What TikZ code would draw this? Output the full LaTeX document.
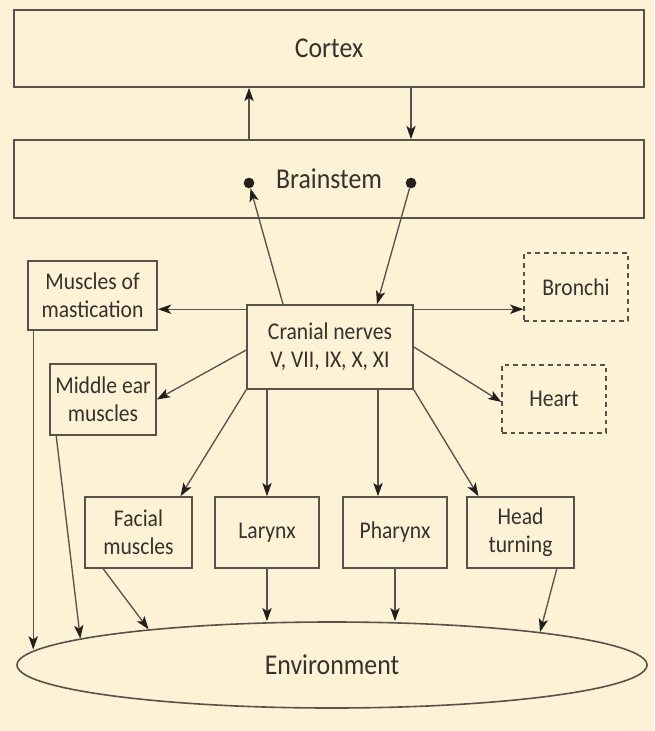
\documentclass[tikz,border=0pt]{standalone}
\usepackage{fontspec}
\setmainfont{Carlito}[FakeStretch=0.9]
\usetikzlibrary{arrows.meta,calc,shapes.geometric}
\definecolor{bg}{HTML}{FEF2D6}
\definecolor{ln}{HTML}{57524B}
\definecolor{tx}{HTML}{35312D}
\definecolor{tipc}{HTML}{231F1C}
\begin{document}
\begin{tikzpicture}[x=0.75pt,y=-0.75pt,
  box/.style={draw=ln,line width=1.2pt,fill=bg,text=tx,align=center,inner sep=0pt,font=\fontsize{18}{21}\selectfont},
  bigbox/.style={box,font=\fontsize{21.5}{24}\selectfont},
  dbox/.style={box,line width=0.9pt,dash pattern=on 3.5pt off 3pt},
  envshape/.style={box,ellipse,font=\fontsize{21.5}{24}\selectfont},
  arr/.style={draw=ln,line width=1pt,-{Stealth[length=10pt,width=7pt,inset=2.5pt,color=tipc]}},
  dot/.style={circle,fill=tipc,inner sep=0pt,minimum size=8pt}]
\fill[bg] (0,0) rectangle (654,731);
\useasboundingbox (0,0) rectangle (654,731);

\node[bigbox,minimum width=472.5pt,minimum height=57.75pt] (cortex) at (329,48.5) {Cortex};
\node[bigbox,minimum width=472.5pt,minimum height=58.5pt] (brain) at (329,179) {Brainstem};
\node[dot] (dl) at (249,183) {};
\node[dot] (dr) at (411,183) {};

\node[box,minimum width=124.5pt,minimum height=63pt] (cranial) at (330,347) {Cranial nerves\\V, VII, IX, X, XI};
\node[box,minimum width=96.75pt,minimum height=51.75pt] (mast) at (92.5,295.5) {Muscles of\\mastication};
\node[box,minimum width=79.5pt,minimum height=53.25pt] (midear) at (103,399.5) {Middle ear\\muscles};
\node[dbox,minimum width=78pt,minimum height=51pt] (bronchi) at (576,287) {Bronchi};
\node[dbox,minimum width=78pt,minimum height=51pt] (heart) at (554,399) {Heart};

\node[box,minimum width=80.25pt,minimum height=53.25pt] (facial) at (138.5,532.5) {Facial\\muscles};
\node[box,minimum width=78pt,minimum height=53.25pt] (larynx) at (267,532.5) {Larynx};
\node[box,minimum width=78pt,minimum height=53.25pt] (pharynx) at (395,532.5) {Pharynx};
\node[box,minimum width=80.25pt,minimum height=53.25pt] (head) at (520.5,532.5) {Head\\turning};

\node[envshape,minimum width=472.5pt,minimum height=64.5pt] (env) at (332,665) {Environment};

% brainstem <-> cortex
\draw[arr] (brain.north -| dl) -- (cortex.south -| dl);
\draw[arr] (cortex.south -| dr) -- (brain.north -| dr);
% cranial <-> brainstem dots
\draw[arr] ($(cranial.north)+(-47,0)$) -- (dl);
\draw[arr] (dr) -- ($(cranial.north)+(47,0)$);
% cranial to side targets
\coordinate (cl) at ($(cranial.north west)+(0,5)$);
\coordinate (cr) at ($(cranial.north east)+(0,5)$);
\draw[arr] (cl) -- (cl -| mast.east);
\draw[arr] (cr) -- (cr -| bronchi.west);
\draw[arr] ($(cranial.west)+(0,3)$) -- (midear.east);
\draw[arr] (cranial.east) -- ($(heart.west)+(0,3)$);
% cranial to bottom row
\draw[arr] (cranial.south west) -- ($(facial.north)+(42,0)$);
\draw[arr] (cranial.south -| larynx.north) -- (larynx.north);
\coordinate (pt) at ($(pharynx.north)+(-17,0)$);
\draw[arr] (cranial.south -| pt) -- (pt);
\draw[arr] (cranial.south east) -- ($(head.north)+(-42,0)$);
% to environment
\coordinate (m1) at ($(mast.south west)+(6,0)$);
\draw[arr] (m1) -- (m1 |- env.177.3);
\draw[arr] ($(midear.south west)+(7,0)$) -- (env.174);
\draw[arr] ($(facial.south west)+(19,0)$) -- (env.169.6);
\draw[arr] (larynx.south) -- (larynx.south |- env.north);
\draw[arr] (pharynx.south) -- (pharynx.south |- env.north);
\draw[arr] ($(head.south east)+(-18,0)$) -- (env.9);
\end{tikzpicture}
\end{document}
